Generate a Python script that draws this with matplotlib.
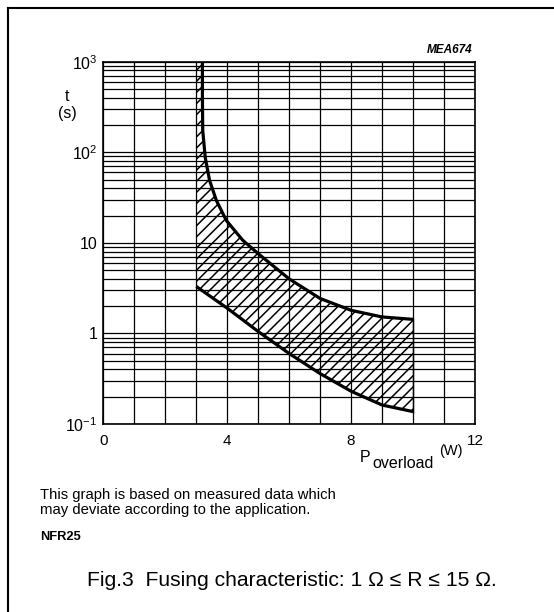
import matplotlib
matplotlib.use("Agg")
import matplotlib.pyplot as plt
from matplotlib.lines import Line2D
from matplotlib.ticker import FixedLocator, LogLocator, NullFormatter

plt.rcParams["font.family"] = ["Liberation Sans", "DejaVu Sans"]
plt.rcParams["mathtext.fontset"] = "custom"
plt.rcParams["mathtext.rm"] = "Liberation Sans"
plt.rcParams["mathtext.it"] = "Liberation Sans:italic"
plt.rcParams["mathtext.bf"] = "Liberation Sans:bold"
plt.rcParams["hatch.linewidth"] = 1.1
plt.rcParams["hatch.color"] = "black"

# Fusing band: upper (slowest) and lower (fastest) fusing time vs. overload power
upper_p = [3.2, 3.2, 3.21, 3.29, 3.43, 3.65, 3.97, 4.5, 5.0, 6.0, 7.0, 8.0, 9.0, 10.0]
upper_t = [1000, 400, 174, 88, 49, 29.4, 17.7, 10.7, 7.6, 4.0, 2.43, 1.80, 1.52, 1.43]
lower_p = [3.0, 4.0, 5.0, 6.0, 7.0, 8.0, 9.0, 10.0]
lower_t = [3.3, 1.9, 1.05, 0.6, 0.36, 0.23, 0.162, 0.137]

p_ticks = [0, 4, 8, 12]
p_labels = ["0", "4", "8", "12"]
t_ticks = [0.1, 1, 10, 100, 1000]
t_labels = ["$10^{-1}$", "1", "10", "$10^2$", "$10^3$"]

W, H = 554, 612
fig = plt.figure(figsize=(W / 100, H / 100), dpi=100)


def fx(x):
    return x / W


def fy(y):
    return 1 - y / H


# axes box in pixel terms
left, right, top, bottom = 103.3, 475.0, 61.7, 424.0
ax = fig.add_axes([fx(left), fy(bottom), fx(right - left), (bottom - top) / H])

ax.set_xlim(0, 12)
ax.set_yscale("log")
ax.set_ylim(0.1, 1000)

# grid: every watt, and log decades with 2..9 subdivisions
ax.xaxis.set_major_locator(FixedLocator(p_ticks))
ax.xaxis.set_minor_locator(FixedLocator(list(range(0, 13))))
ax.set_xticklabels(p_labels)
ax.yaxis.set_major_locator(FixedLocator(t_ticks))
ax.yaxis.set_minor_locator(LogLocator(base=10, subs=range(2, 10), numticks=20))
ax.yaxis.set_minor_formatter(NullFormatter())
ax.set_yticklabels(t_labels)

ax.grid(True, which="both", color="black", linewidth=0.9)
ax.set_axisbelow(True)
ax.tick_params(which="both", length=0)
ax.tick_params(axis="x", pad=7, labelsize=11)
ax.tick_params(axis="y", pad=4, labelsize=11.5)
for s in ax.spines.values():
    s.set_linewidth(1.2)

# hatched band between the two curves
poly_p = upper_p + [lower_p[-1]] + lower_p[::-1] + [lower_p[0]]
poly_t = upper_t + [lower_t[-1]] + lower_t[::-1] + [upper_t[0]]
ax.fill(poly_p, poly_t, facecolor="none", edgecolor="black", hatch="///", linewidth=0)
ax.plot([lower_p[-1], lower_p[-1]], [lower_t[-1], upper_t[-1]], color="black", lw=1.0)
ax.plot(upper_p, upper_t, color="black", lw=2.3, solid_capstyle="butt")
ax.plot(lower_p, lower_t, color="black", lw=2.3, solid_capstyle="butt")

# axis titles
fig.text(fx(67), fy(105), "t\n(s)", ha="center", va="center", fontsize=11.5, linespacing=1.15)
fig.text(fx(360), fy(457), "P", ha="left", va="center", fontsize=11.5)
fig.text(fx(372), fy(463), "overload", ha="left", va="center", fontsize=11.5)
fig.text(fx(439), fy(451), "(W)", ha="left", va="center", fontsize=10.5)
fig.text(fx(472), fy(50), "MEA674", ha="right", va="center", fontsize=8.5,
         fontweight="bold", fontstyle="italic")

# notes and caption
fig.text(fx(40), fy(495), "This graph is based on measured data which",
         ha="left", va="center", fontsize=10.7)
fig.text(fx(40), fy(510), "may deviate according to the application.",
         ha="left", va="center", fontsize=10.7)
fig.text(fx(40), fy(537), "NFR25", ha="left", va="center", fontsize=9.3, fontweight="bold")
fig.text(fx(87), fy(580), "Fig.3  Fusing characteristic: 1 \u03a9 \u2264 R \u2264 15 \u03a9.",
         ha="left", va="center", fontsize=15.2)

# page frame (left and top rules)
fig.add_artist(Line2D([fx(8), fx(8)], [fy(8), 0], transform=fig.transFigure,
                      color="black", lw=1.5))
fig.add_artist(Line2D([fx(8), 1], [fy(8), fy(8)], transform=fig.transFigure,
                      color="black", lw=1.5))

fig.savefig("out.png", dpi=100)
